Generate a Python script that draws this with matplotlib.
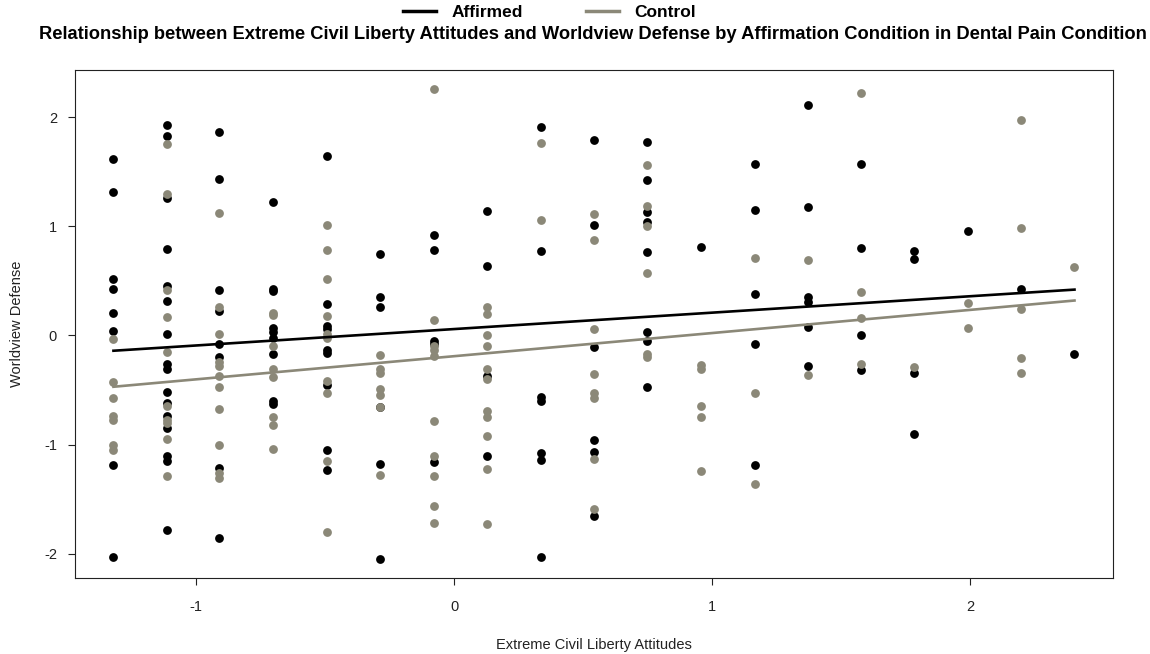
import numpy as np
import matplotlib
matplotlib.use("Agg")
import matplotlib.pyplot as plt
from matplotlib.lines import Line2D

plt.rcParams['font.family'] = ['Liberation Sans', 'DejaVu Sans']
plt.rcParams['axes.unicode_minus'] = False

# x levels of the attitude score
levels = [-1.319, -1.112, -0.911, -0.700, -0.492, -0.288, -0.078, 0.127, 0.336,
          0.543, 0.749, 0.956, 1.164, 1.370, 1.577, 1.783, 1.989, 2.197, 2.403]

# worldview defense values per level
affirmed = [
    [1.62, 1.31, 0.52, 0.43, 0.21, 0.04, -1.19, -2.03],
    [1.93, 1.83, 1.26, 0.79, 0.45, 0.32, 0.01, -0.26, -0.31, -0.52, -0.62, -0.74, -0.85, -1.10, -1.15, -1.78],
    [1.86, 1.43, 0.42, 0.22, -0.08, -0.20, -1.21, -1.86],
    [1.22, 0.43, 0.41, 0.07, 0.03, -0.02, -0.17, -0.60, -0.63],
    [1.64, 0.29, 0.09, 0.06, -0.13, -0.16, -0.45, -1.05, -1.23],
    [0.75, 0.35, 0.26, -0.66, -1.18, -2.05],
    [0.92, 0.78, -0.05, -0.08, -1.16],
    [1.14, 0.64, -0.37, -1.10],
    [1.91, 0.77, -0.56, -0.60, -1.08, -1.14, -2.03],
    [1.79, 1.01, -0.11, -0.96, -1.07, -1.65],
    [1.77, 1.42, 1.13, 1.04, 0.76, 0.03, -0.05, -0.47],
    [0.81],
    [1.57, 1.15, 0.38, -0.08, -1.19],
    [2.11, 1.18, 0.35, 0.31, 0.08, -0.28],
    [1.57, 0.80, 0.00, -0.32],
    [0.77, 0.70, -0.34, -0.90],
    [0.96],
    [0.43],
    [-0.17],
]
control = [
    [-0.03, -0.43, -0.57, -0.74, -0.77, -1.00, -1.05],
    [1.75, 1.30, 0.42, 0.17, -0.15, -0.65, -0.77, -0.80, -0.95, -1.29],
    [1.12, 0.26, 0.01, -0.24, -0.28, -0.37, -0.47, -0.67, -1.00, -1.26, -1.31],
    [0.21, 0.19, -0.10, -0.31, -0.38, -0.75, -0.82, -1.04],
    [1.01, 0.78, 0.52, 0.18, 0.01, -0.02, -0.42, -0.53, -1.15, -1.80],
    [-0.18, -0.31, -0.34, -0.49, -0.55, -0.66, -1.28],
    [2.26, 0.14, -0.10, -0.13, -0.19, -0.78, -1.10, -1.29, -1.56, -1.72],
    [0.26, 0.20, 0.00, -0.10, -0.31, -0.40, -0.69, -0.75, -0.92, -1.22, -1.73],
    [1.76, 1.06],
    [1.11, 0.87, 0.06, -0.35, -0.53, -0.57, -1.13, -1.59],
    [1.56, 1.19, 1.00, 0.57, -0.17, -0.20],
    [-0.27, -0.31, -0.65, -0.75, -1.24],
    [0.71, -0.53, -1.36],
    [0.69, -0.36],
    [2.22, 0.40, 0.16, -0.26],
    [-0.29],
    [0.30, 0.07],
    [1.97, 0.98, 0.24, -0.21, -0.34],
    [0.63],
]

# fitted lines (ends at min and max x)
line_x = [-1.319, 2.403]
affirmed_line = [-0.14, 0.42]
control_line = [-0.47, 0.32]

col_aff = 'black'
col_ctl = '#8B8878'

def flatten(groups):
    xs, ys = [], []
    for lv, vals in zip(levels, groups):
        xs += [lv] * len(vals)
        ys += vals
    return np.array(xs), np.array(ys)

ax_x, ax_y = flatten(affirmed)
cx, cy = flatten(control)

fig = plt.figure(figsize=(11.5, 6.54), dpi=100)
ax = fig.add_axes([0.0652, 0.1162, 0.9026, 0.7768])

ax.scatter(ax_x, ax_y, s=40, color=col_aff, linewidths=0, zorder=2)
ax.scatter(cx, cy, s=40, color=col_ctl, linewidths=0, zorder=2)
ax.plot(line_x, affirmed_line, color=col_aff, lw=1.9, zorder=3)
ax.plot(line_x, control_line, color=col_ctl, lw=1.9, zorder=3)

ax.set_xlim(-1.468, 2.552)
ax.set_ylim(-2.222, 2.432)
ax.set_xticks([-1, 0, 1, 2])
ax.set_yticks([-2, -1, 0, 1, 2])
ax.tick_params(labelsize=10.5, length=5, color='#222222', labelcolor='#222222')
ax.tick_params(axis='x', pad=11)
ax.tick_params(axis='y', pad=8)
for s in ax.spines.values():
    s.set_linewidth(0.8)
    s.set_color('#222222')

ax.set_xlabel('Extreme Civil Liberty Attitudes', fontsize=10.5, color='#222222', labelpad=17)
ax.set_ylabel('Worldview Defense', fontsize=10.5, color='#222222', labelpad=14)

fig.text(0.516, 0.948,
         'Relationship between Extreme Civil Liberty Attitudes and Worldview Defense by Affirmation Condition in Dental Pain Condition',
         ha='center', va='center', fontsize=13.2, fontweight='bold')

handles = [Line2D([], [], color=col_aff, lw=2.5), Line2D([], [], color=col_ctl, lw=2.5)]
fig.legend(handles, ['Affirmed', 'Control'], loc='center', bbox_to_anchor=(0.478, 0.981),
           ncol=2, frameon=False, prop={'weight': 'bold', 'size': 12.5},
           handlelength=1.9, handletextpad=0.9, columnspacing=3.6, borderpad=0.1)

fig.savefig('out.png', dpi=100)
